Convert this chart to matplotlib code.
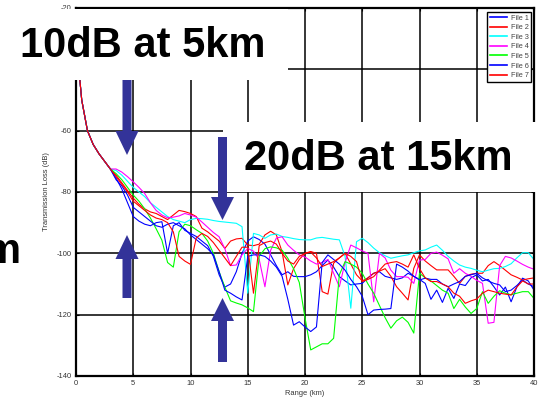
import matplotlib
matplotlib.use("Agg")
import matplotlib.pyplot as plt
import numpy as np
from matplotlib.patches import Rectangle, Polygon

plt.rcParams['font.family'] = ['Liberation Sans', 'DejaVu Sans']
plt.rcParams['axes.unicode_minus'] = False

# range grid, 0.5 km steps
range_km = np.arange(0, 40.5, 0.5)

# shared near-field part (0 .. 3 km)
near = [-30, -50, -60, -64.5, -67.5, -70, -72.5]

file1 = near + [-75.5, -79, -83.5, -88, -89.5, -90.5, -91, -90, -89.7, -100, -91, -90, -92.5,
                -93.5, -94.5, -96, -97.5, -101, -107, -111, -110, -106, -100, -96, -94.6,
                -95.5, -97, -100.5, -104, -107, -106, -107.5, -107.6, -107.6, -107, -106, -104,
                -102.2, -104.5, -107.6, -109, -110.3, -110, -109.8, -108, -106.5, -106, -107.5, -108,
                -108.5, -108, -106.5, -107.5, -108.5, -109.8, -115, -112, -116, -111.4, -114.7, -110,
                -110.5, -108, -107, -109, -108.5, -110.9, -113.6, -111, -115.8, -111, -108.1, -109, -112]
file2 = near + [-74.5, -77, -79.5, -82, -84, -85.5, -86.5, -87, -88, -89, -87.5, -86, -86.4,
                -87, -88, -91.8, -93, -94.5, -96, -98.4, -96, -95.3, -95.1, -97.3, -97.5,
                -97, -94, -92.8, -94, -99.5, -110.3, -105, -102, -100, -99.4, -100, -112.5,
                -113.3, -103.2, -101.5, -100, -103.5, -107, -109, -108, -106.5, -105.8, -105, -107.5,
                -110.9, -113, -115.2, -104.9, -100.5, -102.5, -104, -105.4, -105.4, -105.4, -107.5, -109.8,
                -107.5, -106.8, -106.5, -106.5, -104, -102.7, -104, -105.5, -107, -107.8, -108.7, -108.3, -108]
file3 = near + [-73, -74.5, -76.5, -78.5, -80, -81.5, -83.5, -85, -86.5, -88, -89, -89.5, -90,
                -89, -88.6, -88.7, -88.9, -89.3, -89.6, -89.8, -90, -90.2, -91.3, -113, -93.5,
                -94, -95.1, -94, -93.7, -94.5, -94.8, -95.2, -95.5, -95.6, -95.6, -95, -94.8,
                -95.1, -95.4, -95.6, -101, -117.9, -96.2, -95.1, -96.5, -98.3, -99.8, -100.8, -101.6,
                -101.2, -100.8, -100.5, -99.8, -99.2, -98.9, -98, -97.3, -99, -101, -102.5, -103.8,
                -104.5, -104.9, -105.5, -106, -105.5, -105, -104.9, -104.3, -103.4, -101.5, -99.8, -99.8, -102]
file4 = near + [-72.5, -73.5, -75, -76.7, -78.5, -80.5, -83.5, -86, -87.5, -88.4, -88.2, -87.8, -87,
                -87.5, -88.2, -89.8, -91.5, -93.2, -94.6, -98.5, -104, -103.8, -100.5, -98.4, -99.3,
                -102, -110.9, -99, -95, -94.6, -97.3, -99, -100.5, -101.2, -102.5, -103.5, -103,
                -102, -106.5, -110.9, -103, -97.3, -98.2, -99.2, -100, -115.8, -100, -101.5, -105.5,
                -107.6, -107.6, -107.8, -109.8, -102.2, -102, -100, -99.6, -100.6, -101.8, -106.5, -105,
                -106.5, -107.5, -108.8, -109.8, -122.8, -122.5, -104, -101, -101.5, -102.5, -103.6, -104.5, -105.2]
file5 = near + [-74, -76, -78.5, -81, -83, -85.5, -88.5, -92, -95.7, -103, -104.5, -93, -90.5,
                -91, -92.3, -93.5, -96, -100, -106, -111, -115.5, -116.2, -116.8, -117.8, -119,
                -101, -98.5, -97.9, -98.2, -99, -101.6, -105, -109.5, -121, -131.5, -130.5, -129.5,
                -129.5, -127.7, -107, -102.7, -103.5, -104.5, -106.5, -110, -113, -117, -121, -124.4,
                -122, -120.8, -122.5, -126, -106.5, -108, -109, -110.5, -112, -113, -118, -115,
                -117.5, -119.6, -118, -112.5, -116.3, -114, -112.2, -113, -113.5, -113, -112.5, -112.5, -114.7]
file6 = near + [-76, -78, -81, -85, -86.5, -88, -89.5, -91, -91.5, -90.5, -90, -91, -92,
                -94, -95.5, -97, -98.5, -100.5, -106, -112, -113, -114.2, -115.2, -101, -100.5,
                -100.5, -101, -102.5, -104.5, -107.5, -115, -123.4, -122.3, -124, -125.5, -124, -103,
                -100.5, -102, -103.5, -105.5, -108.5, -110.9, -114, -120, -118.5, -118.3, -118.2, -118,
                -103.5, -104.5, -105.8, -107.5, -108.7, -108.1, -108.5, -108.5, -110, -110.9, -110, -109.2,
                -107.5, -107, -106.5, -108, -109, -109.8, -110.3, -112.5, -112, -110.5, -108.7, -110, -110.9]
file7 = near + [-75, -77.5, -80, -83, -84.5, -86, -87.5, -88.5, -89, -90, -93, -101, -102.5,
                -103.6, -95, -93.5, -94.5, -96.5, -99, -101.5, -104, -101, -98, -98, -113,
                -97.5, -96.5, -96, -97, -100, -102.5, -103.5, -101, -100, -99.6, -101.5, -104.3,
                -103.5, -102.7, -101.5, -100, -101, -102.7, -109.2, -108.5, -107.6, -105.5, -103.5, -103,
                -102.7, -103.5, -104.5, -100.5, -105, -108, -109.2, -109.2, -110, -110.9, -113, -114,
                -116.3, -115.5, -114.9, -113, -112, -112.5, -113, -113.3, -113.6, -111, -109, -110, -110]

series = [file1, file2, file3, file4, file5, file6, file7]
labels = ["File 1", "File 2", "File 3", "File 4", "File 5", "File 6", "File 7"]
colors = ["#0000ff", "#ff0000", "#00ffff", "#ff00ff", "#00ff00", "#0000ff", "#ff0000"]

x_ticks = np.arange(0, 41, 5)
y_ticks = np.arange(-140, -19, 20)

W, H = 543, 398
fig = plt.figure(figsize=(W / 100, H / 100), dpi=100)
ax = fig.add_axes([76 / W, 1 - 376 / H, 458 / W, 368 / H])

for vals, lab, col in zip(series, labels, colors):
    ax.plot(range_km, vals, color=col, linewidth=0.8, label=lab)

ax.set_xlim(0, 40)
ax.set_ylim(-140, -20)
ax.set_xticks(x_ticks)
ax.set_yticks(y_ticks)
ax.set_axisbelow(True)
ax.grid(True, color="black", linewidth=1.1, linestyle="-")
ax.tick_params(direction="in", length=2.5, width=0.8, top=True, right=True,
               labelsize=5.4, labelcolor="#333333", pad=3)
for sp in ax.spines.values():
    sp.set_linewidth(1.6)
ax.set_xlabel("Range (km)", fontsize=5.4, color="#333333")
ax.set_ylabel("Transmission Loss (dB)", fontsize=5.4, color="#333333")
ax.xaxis.set_label_coords(0.5, -0.037)
ax.yaxis.set_label_coords(-0.057, 0.5)

leg = ax.legend(loc="upper right", bbox_to_anchor=(531 / W, 1 - 12 / H),
                bbox_transform=fig.transFigure, fontsize=5.3, frameon=True,
                fancybox=False, edgecolor="black", framealpha=1, borderpad=0.35,
                labelspacing=0.33, handlelength=2.3, handletextpad=0.5,
                borderaxespad=0)
leg.get_frame().set_linewidth(1.0)
for t in leg.get_texts():
    t.set_color("#444444")
for h in leg.get_lines():
    h.set_linewidth(1.2)


def fx(x):
    return x / W


def fy(y):
    return 1 - y / H


# white boxes laid over the plot
fig.patches.append(Rectangle((fx(0), fy(80)), fx(288), 71 / H, transform=fig.transFigure,
                             facecolor="white", edgecolor="none", zorder=5))
fig.patches.append(Rectangle((fx(223), fy(192)), fx(W - 223), 70 / H, transform=fig.transFigure,
                             facecolor="white", edgecolor="none", zorder=5))


def arrow(xc, y_tail, y_tip, shaft=9, head=23, head_len=24):
    d = 1 if y_tip > y_tail else -1
    yb = y_tip - d * head_len
    pts = [(xc - shaft / 2, y_tail), (xc + shaft / 2, y_tail), (xc + shaft / 2, yb),
           (xc + head / 2, yb), (xc, y_tip), (xc - head / 2, yb), (xc - shaft / 2, yb)]
    fig.patches.append(Polygon([(fx(a), fy(b)) for a, b in pts], closed=True,
                               transform=fig.transFigure, facecolor="#333399",
                               edgecolor="none", zorder=6))


arrow(127, 80, 155)
arrow(127, 298, 235)
arrow(222.5, 137, 220, head_len=23)
arrow(222.5, 362, 298, head_len=23)

fig.text(fx(143), fy(46), "10dB at 5km", fontsize=30, fontweight="bold",
         ha="center", va="center", zorder=7)
fig.text(fx(378), fy(159), "20dB at 15km", fontsize=30, fontweight="bold",
         ha="center", va="center", zorder=7)
fig.text(fx(20), fy(263), "m", fontsize=30, fontweight="bold",
         ha="right", va="baseline", zorder=7)

fig.savefig("out.png", dpi=100)
